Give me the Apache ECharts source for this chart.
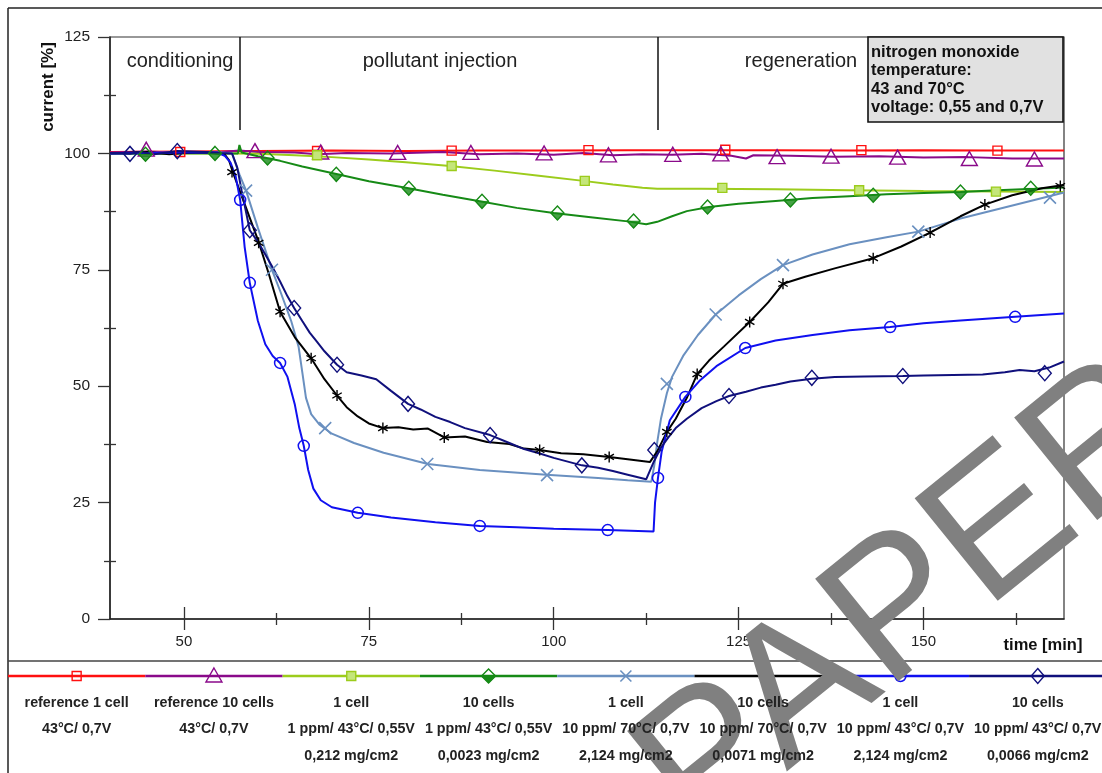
<!DOCTYPE html>
<html>
<head>
<meta charset="utf-8">
<script src="https://cdn.jsdelivr.net/npm/echarts@6/dist/echarts.min.js"></script>
<style>
html,body{margin:0;padding:0;background:#fff;}
#c{width:1102px;height:773px;}
</style>
</head>
<body>
<div id="c"></div>
<script>
// ---------------- DATA ----------------
const xTicksMajor = [50, 75, 100, 125, 150];
const xTicksMinor = [62.5, 87.5, 112.5, 137.5, 162.5];
const yTicksMinor = [12.5, 37.5, 62.5, 87.5, 112.5];
const phaseBounds = [57.5, 114];
const phaseLabels = ['conditioning', 'pollutant injection', 'regeneration'];
const infoLines = ['nitrogen monoxide', 'temperature:', '43 and 70°C', 'voltage: 0,55 and 0,7V'];

const seriesNames = ['reference 1 cell', 'reference 10 cells', '1 cell', '10 cells', '1 cell', '10 cells', '1 cell', '10 cells'];
const seriesSub1 = ['43°C/ 0,7V', '43°C/ 0,7V', '1 ppm/ 43°C/ 0,55V', '1 ppm/ 43°C/ 0,55V', '10 ppm/ 70°C/ 0,7V', '10 ppm/ 70°C/ 0,7V', '10 ppm/ 43°C/ 0,7V', '10 ppm/ 43°C/ 0,7V'];
const seriesSub2 = ['', '', '0,212 mg/cm2', '0,0023 mg/cm2', '2,124 mg/cm2', '0,0071 mg/cm2', '2,124 mg/cm2', '0,0066 mg/cm2'];

// reference 1 cell
const ref1Line = [[40,100.3],[50,100.4],[60,100.5],[70,100.6],[80,100.5],[90,100.6],[100,100.6],[110,100.7],[120,100.7],[130,100.7],[140,100.6],[150,100.7],[160,100.6],[169,100.6]];
const ref1Marks = [[49.5,100.3],[68,100.5],[86.2,100.6],[104.7,100.7],[123.2,100.8],[141.6,100.7],[160,100.6]];
// reference 10 cells
const ref10Line = [[40,100.2],[45,100.4],[50,100.1],[55,100.3],[57.5,100.6],[60,100.3],[65,100.2],[68,99.8],[72,100.1],[78,100],[85,100.3],[90,99.8],[95,100],[100,99.7],[104,100.1],[108,99.6],[112,99.8],[116,99.7],[120,99.9],[124,99.5],[126,98.9],[127,99.6],[132,99.5],[138,99.3],[144,99.4],[150,99.1],[156,99.2],[162,98.9],[169,98.9]];
const ref10Marks = [[44.9,100.9],[59.6,100.6],[68.5,100.3],[78.9,100.2],[88.8,100.2],[98.7,100.1],[107.4,99.7],[116.1,99.8],[122.6,99.9],[130.2,99.3],[137.5,99.4],[146.5,99.2],[156.2,98.9],[165,98.8]];
// 1 cell, 1 ppm, 43°C, 0.55V
const c1p1Line = [[40,100],[50,100],[57,100],[60,99.9],[65,99.6],[70,99.2],[75,98.7],[80,98.1],[86,97.3],[92,96.3],[98,95.2],[104,94.1],[108,93.3],[112,92.6],[114,92.4],[120,92.4],[130,92.3],[140,92.1],[150,91.9],[160,91.8],[169,91.7]];
const c1p1Marks = [[68,99.6],[86.2,97.3],[104.2,94.1],[122.8,92.6],[141.3,92.1],[159.8,91.8]];
// 10 cells, 1 ppm, 43°C, 0.55V
const c10p1Line = [[40,100],[45,99.9],[50,100.1],[55,100],[57.3,100],[57.5,101.8],[57.8,100.2],[60,99.4],[63,98.4],[66,97.2],[70,95.8],[75,94],[80,92.6],[85,91.1],[90,89.7],[95,88.3],[100,87.2],[105,86.3],[110,85.4],[112.5,84.8],[114,85.3],[116,86.5],[118,87.6],[121,88.5],[125,89.2],[130,89.8],[135,90.4],[140,90.8],[145,91.2],[150,91.5],[155,91.7],[160,92.1],[165,92.4],[169,92.7]];
const c10p1Marks = [[44.8,99.8],[54.2,100],[61.3,99],[70.6,95.5],[80.4,92.5],[90.3,89.7],[100.5,87.2],[110.8,85.5],[120.8,88.5],[132,90],[143.2,91],[155,91.7],[164.5,92.5]];
// 1 cell, 10 ppm, 70°C, 0.7V
const c1p10hLine = [[40,100],[50,100.2],[55,100.2],[56.5,100],[57.5,95.5],[58.4,92],[60,84],[61.9,75],[63,70.5],[64.5,64],[65.5,58.5],[66,53],[66.5,47.5],[67.2,44],[68.3,41.8],[70,39.8],[73,37.8],[77,35.7],[83,33.3],[90,32],[99,31],[106,30.3],[110,29.8],[113.2,29.5],[113.6,33],[114,38],[114.5,43],[115.3,48.5],[116,52],[117.5,56.5],[119.5,61],[121.9,65.4],[125,69.5],[128,73],[131,76],[135,78.3],[140,80.5],[145,82],[149.3,83.2],[155,86],[160,88],[165,90],[169,91.6]];
const c1p10hMarks = [[58.4,92],[61.9,75],[69.1,41],[82.9,33.3],[99.1,30.9],[115.3,50.5],[121.9,65.4],[131,76],[149.3,83.2],[167.1,90.5]];
// 10 cells, 10 ppm, 70°C, 0.7V
const c10p10hLine = [[40,100],[45,100.3],[48,99.8],[50,100.1],[53,100.2],[55.5,99.8],[56.1,98.5],[56.6,96],[58,90],[60.1,81],[61.5,74],[63,66],[65,60.5],[67.2,56],[69,51.5],[70.7,48],[72,45.5],[73.5,43.5],[75,42],[76.9,41],[79,41.2],[81,40.7],[83,40.9],[85.2,39],[88,39.2],[91,38],[94,37.6],[96,36.6],[98.1,36.3],[101,35.6],[104,35.4],[107.5,34.8],[110,34.3],[113,33.7],[114,36],[115.3,40.2],[116.5,43],[118,47.5],[119.4,52.6],[121,55.5],[123,58.5],[126.5,63.8],[129,68],[131,72],[134,73.5],[138,75.3],[143.2,77.5],[147,80],[150.9,83],[155,86.5],[158.3,89],[162,91],[166,92.5],[169,93.2]];
const c10p10hMarks = [[56.5,96],[60.1,80.8],[63,66],[67.2,56],[70.7,48],[76.9,41],[85.2,39],[98.1,36.3],[107.5,34.8],[115.3,40.2],[119.4,52.6],[126.5,63.8],[131,72],[143.2,77.5],[150.9,83],[158.3,89],[168.5,93]];
// 1 cell, 10 ppm, 43°C, 0.7V
const c1p10Line = [[40,100],[50,100.2],[54.5,100.2],[55.5,99.5],[56.3,98],[57,95],[57.6,90],[58.2,80],[58.9,72.2],[60,64],[61,59],[62,56.5],[63,55],[64,52],[65,46],[65.6,41],[66.2,37.2],[66.8,32],[67.5,28],[68.5,25.5],[70,24],[73.5,22.8],[78,21.8],[84,20.8],[90,20],[95,19.7],[100,19.4],[107.3,19.1],[113.5,18.8],[113.7,25],[114.1,30.3],[114.6,36],[115.7,42.7],[117.8,47.7],[119.8,51.3],[122,54.3],[125.9,58.2],[130,59.8],[135,61],[140,62],[145.5,62.7],[150,63.5],[155,64.1],[162.4,64.9],[169,65.6]];
const c1p10Marks = [[57.6,90],[58.9,72.2],[63,55],[66.2,37.2],[73.5,22.8],[90,20],[107.3,19.1],[114.1,30.3],[117.8,47.7],[125.9,58.2],[145.5,62.7],[162.4,64.9]];
// 10 cells, 10 ppm, 43°C, 0.7V
const c10p10Line = [[40,100.1],[42.7,99.9],[44,100.3],[46,99.8],[49.1,100.5],[53,100.3],[55,100.1],[56.5,100],[57.2,97],[57.8,92],[58.9,83.5],[60,81],[61,78.3],[62,75.5],[63,72.5],[64,69.3],[64.9,66.8],[66,64],[67,61.5],[68,59.5],[69,57.5],[70.7,54.6],[72,53],[74,52.3],[76,51.5],[78,49],[80.3,46.2],[82,45],[84,43.4],[86,42.3],[88,41],[91.4,39.5],[94,37.8],[96,36.5],[98,35.6],[100,34.6],[103.8,33],[106,32.5],[108,31.8],[110,31],[112.5,30],[113.6,34],[114.5,36.8],[115.5,39],[116.5,41],[118,43],[120,45.3],[122,46.8],[123.7,47.9],[126,48.8],[128,49.7],[130,50.3],[132,51],[134.9,51.6],[138,52],[142,52.1],[147.2,52.2],[150,52.3],[154,52.4],[158,52.5],[161,53],[163,53.5],[165,53.2],[167,54],[169,55.3]];
const c10p10Marks = [[42.7,99.9],[49.1,100.5],[58.9,83.5],[64.9,66.8],[70.7,54.6],[80.3,46.2],[91.4,39.5],[103.8,33],[113.6,36.3],[123.7,47.9],[134.9,51.8],[147.2,52.2],[166.4,52.8]];

// ---------------- STYLE ----------------
const FONT = 'Liberation Sans, Arial, Helvetica, sans-serif';
const lines = [ref1Line, ref10Line, c1p1Line, c10p1Line, c1p10hLine, c10p10hLine, c1p10Line, c10p10Line];
const marks = [ref1Marks, ref10Marks, c1p1Marks, c10p1Marks, c1p10hMarks, c10p10hMarks, c1p10Marks, c10p10Marks];
const colors = ['#ff1010', '#8a0a8a', '#9ccc1c', '#168a16', '#6a90c0', '#000000', '#1010f0', '#10107c'];
const T = 'rgba(255,255,255,0)';
const markerDefs = [
  {symbol: 'rect', size: 9, fill: T, w: 1.4},
  {symbol: 'triangle', size: [16, 14], fill: T, w: 1.4},
  {symbol: 'rect', size: 9, fill: '#c4e67a', w: 1.4},
  {symbol: 'diamond', size: [13, 14], fill: T, w: 1.4},
  {symbol: 'path://M0,0L10,10M10,0L0,10', size: 12, fill: T, w: 1.6},
  {symbol: 'path://M5,0L5,10M0.7,2.5L9.3,7.5M9.3,2.5L0.7,7.5', size: 11, fill: T, w: 1.4},
  {symbol: 'circle', size: 11, fill: T, w: 1.5},
  {symbol: 'diamond', size: [13, 15], fill: T, w: 1.4}
];

const gridRect = {left: 110, top: 37, right: 38, bottom: 154};

const series = [];
lines.forEach((d, i) => {
  const s = {
    type: 'line', data: d, xAxisIndex: 0, yAxisIndex: 0, showSymbol: false, symbol: 'none',
    lineStyle: {color: colors[i], width: 2}, z: 2 + i * 0.1, silent: true, animation: false
  };
  if (i === 0) {
    s.markLine = {
      silent: true, symbol: 'none', label: {show: false}, animation: false,
      lineStyle: {color: '#111', width: 1.5, type: 'solid'},
      data: phaseBounds.map(b => [{coord: [b, 125]}, {coord: [b, 105]}])
    };
  }
  series.push(s);
  const m = markerDefs[i];
  series.push({
    type: 'scatter', data: marks[i], xAxisIndex: 0, yAxisIndex: 0,
    symbol: m.symbol, symbolSize: m.size, symbolKeepAspect: true,
    itemStyle: {color: m.fill, borderColor: colors[i], borderWidth: m.w, opacity: 1},
    z: 3 + i * 0.1, silent: true, animation: false
  });
  if (i === 3) {
    series.push({
      type: 'scatter', data: marks[i], xAxisIndex: 0, yAxisIndex: 0,
      symbol: 'path://M0,0L10,0L5,5Z', symbolSize: [13, 7], symbolOffset: [0, 3.5],
      itemStyle: {color: colors[i], borderColor: colors[i], borderWidth: 0.5},
      z: 3.35, silent: true, animation: false
    });
  }
});

// ---------------- GRAPHIC (frame, labels, legend) ----------------
const g = [];
// outer frame
g.push({type: 'line', shape: {x1: 8, y1: 8, x2: 1102, y2: 8}, style: {stroke: '#222', lineWidth: 1.5}});
g.push({type: 'line', shape: {x1: 8, y1: 8, x2: 8, y2: 773}, style: {stroke: '#222', lineWidth: 1.5}});
g.push({type: 'line', shape: {x1: 8, y1: 661, x2: 1102, y2: 661}, style: {stroke: '#444', lineWidth: 1.5}});
// axis names
g.push({type: 'text', x: 48, y: 87, rotation: Math.PI / 2,
  style: {text: 'current [%]', fontSize: 17, fontWeight: 'bold', fontFamily: FONT, fill: '#111', align: 'center', verticalAlign: 'middle'}});
g.push({type: 'text', x: 1043, y: 645,
  style: {text: 'time [min]', fontSize: 16.5, fontWeight: 'bold', fontFamily: FONT, fill: '#111', align: 'center', verticalAlign: 'middle'}});
// phase labels
const phaseX = [180, 440, 801];
phaseLabels.forEach((t, i) => {
  g.push({type: 'text', x: phaseX[i], y: 61,
    style: {text: t, fontSize: 20, fontFamily: FONT, fill: '#222', align: 'center', verticalAlign: 'middle'}});
});
// info box
g.push({type: 'rect', shape: {x: 868, y: 37, width: 195, height: 85},
  style: {fill: '#e1e1e1', stroke: '#111', lineWidth: 1.6}, z: 5});
infoLines.forEach((t, i) => {
  g.push({type: 'text', x: 871, y: 52 + i * 18.5, z: 6,
    style: {text: t, fontSize: 16.5, fontWeight: 'bold', fontFamily: FONT, fill: '#111', align: 'left', verticalAlign: 'middle'}});
});
// watermark
g.push({type: 'text', x: 912, y: 602, rotation: 39 * Math.PI / 180, z: 50,
  style: {text: 'PAPER', fontSize: 192, fontFamily: FONT, fill: '#808080', align: 'center', verticalAlign: 'middle'}});

// legend
const segX0 = 8, segW = 137.3, legY = 676;
function legendMarker(i, cx, cy) {
  const c = colors[i];
  const out = [];
  const st = (fill, w) => ({fill: fill, stroke: c, lineWidth: w});
  switch (i) {
    case 0: out.push({type: 'rect', shape: {x: cx - 4.5, y: cy - 4.5, width: 9, height: 9}, style: st(T, 1.4)}); break;
    case 1: out.push({type: 'polygon', shape: {points: [[cx, cy - 8], [cx + 8, cy + 6], [cx - 8, cy + 6]]}, style: st(T, 1.4)}); break;
    case 2: out.push({type: 'rect', shape: {x: cx - 4.5, y: cy - 4.5, width: 9, height: 9}, style: st('#c4e67a', 1.4)}); break;
    case 3:
      out.push({type: 'polygon', shape: {points: [[cx, cy - 7], [cx + 7, cy], [cx, cy + 7], [cx - 7, cy]]}, style: st(T, 1.4)});
      out.push({type: 'polygon', shape: {points: [[cx - 7, cy], [cx + 7, cy], [cx, cy + 7]]}, style: st(c, 0.5)});
      break;
    case 4:
      out.push({type: 'line', shape: {x1: cx - 5.5, y1: cy - 5.5, x2: cx + 5.5, y2: cy + 5.5}, style: {stroke: c, lineWidth: 1.6}});
      out.push({type: 'line', shape: {x1: cx + 5.5, y1: cy - 5.5, x2: cx - 5.5, y2: cy + 5.5}, style: {stroke: c, lineWidth: 1.6}});
      break;
    case 5:
      out.push({type: 'line', shape: {x1: cx, y1: cy - 5, x2: cx, y2: cy + 5}, style: {stroke: c, lineWidth: 1.4}});
      out.push({type: 'line', shape: {x1: cx - 4.3, y1: cy - 2.5, x2: cx + 4.3, y2: cy + 2.5}, style: {stroke: c, lineWidth: 1.4}});
      out.push({type: 'line', shape: {x1: cx + 4.3, y1: cy - 2.5, x2: cx - 4.3, y2: cy + 2.5}, style: {stroke: c, lineWidth: 1.4}});
      break;
    case 6: out.push({type: 'circle', shape: {cx: cx, cy: cy, r: 5.5}, style: st(T, 1.5)}); break;
    case 7: out.push({type: 'polygon', shape: {points: [[cx, cy - 7.5], [cx + 6.5, cy], [cx, cy + 7.5], [cx - 6.5, cy]]}, style: st(T, 1.4)}); break;
  }
  return out;
}
seriesNames.forEach((name, i) => {
  const x0 = segX0 + i * segW;
  const x1 = Math.min(1102, x0 + segW + (i === 7 ? 20 : 0));
  const cx = x0 + segW / 2;
  g.push({type: 'line', shape: {x1: x0, y1: legY, x2: x1, y2: legY}, style: {stroke: colors[i], lineWidth: 2.5}, z: 10});
  legendMarker(i, cx, legY).forEach(e => { e.z = 11; g.push(e); });
  const txt = [name, seriesSub1[i], seriesSub2[i]];
  txt.forEach((t, k) => {
    if (!t) return;
    g.push({type: 'text', x: cx, y: 703 + k * 26.5, z: 60,
      style: {text: t, fontSize: 14.3, fontWeight: 'bold', fontFamily: FONT, fill: '#222', align: 'center', verticalAlign: 'middle'}});
  });
});

// ---------------- OPTION ----------------
const axisColor = '#222';
const hiddenY = {type: 'value', min: 0, max: 125, show: false};
const option = {
  animation: false,
  backgroundColor: '#ffffff',
  grid: [
    Object.assign({show: true, borderColor: '#333', borderWidth: 1.2, backgroundColor: 'rgba(0,0,0,0)'}, gridRect),
    Object.assign({show: false}, gridRect),
    Object.assign({show: false}, gridRect)
  ],
  xAxis: [
    {type: 'value', gridIndex: 0, min: 40, max: 169, position: 'bottom',
      axisLine: {show: true, onZero: false, lineStyle: {color: axisColor, width: 1.5}},
      axisTick: {show: false}, splitLine: {show: false},
      axisLabel: {customValues: xTicksMajor, margin: 15, fontSize: 15, color: '#222', fontFamily: FONT}},
    {type: 'value', gridIndex: 1, min: 40, max: 169, position: 'bottom', offset: -12,
      axisLine: {show: false, onZero: false}, axisLabel: {show: false}, splitLine: {show: false},
      axisTick: {show: true, customValues: xTicksMajor, length: 23, lineStyle: {color: '#333', width: 1.3}}},
    {type: 'value', gridIndex: 2, min: 40, max: 169, position: 'bottom', offset: -6,
      axisLine: {show: false, onZero: false}, axisLabel: {show: false}, splitLine: {show: false},
      axisTick: {show: true, customValues: xTicksMinor, length: 12, lineStyle: {color: '#333', width: 1.3}}}
  ],
  yAxis: [
    {type: 'value', gridIndex: 0, min: 0, max: 125, interval: 25, position: 'left',
      axisLine: {show: true, onZero: false, lineStyle: {color: axisColor, width: 1.5}},
      axisTick: {show: true, length: 12, lineStyle: {color: '#333', width: 1.3}},
      splitLine: {show: false},
      axisLabel: {margin: 20, fontSize: 15.5, color: '#222', fontFamily: FONT}},
    Object.assign({gridIndex: 1}, hiddenY),
    {type: 'value', gridIndex: 2, min: 0, max: 125, position: 'left', offset: -6,
      axisLine: {show: false, onZero: false}, axisLabel: {show: false}, splitLine: {show: false},
      axisTick: {show: true, customValues: yTicksMinor, length: 12, lineStyle: {color: '#333', width: 1.3}}}
  ],
  series: series,
  graphic: {elements: g}
};

const chart = echarts.init(document.getElementById('c'));
chart.setOption(option);
</script>
</body>
</html>
